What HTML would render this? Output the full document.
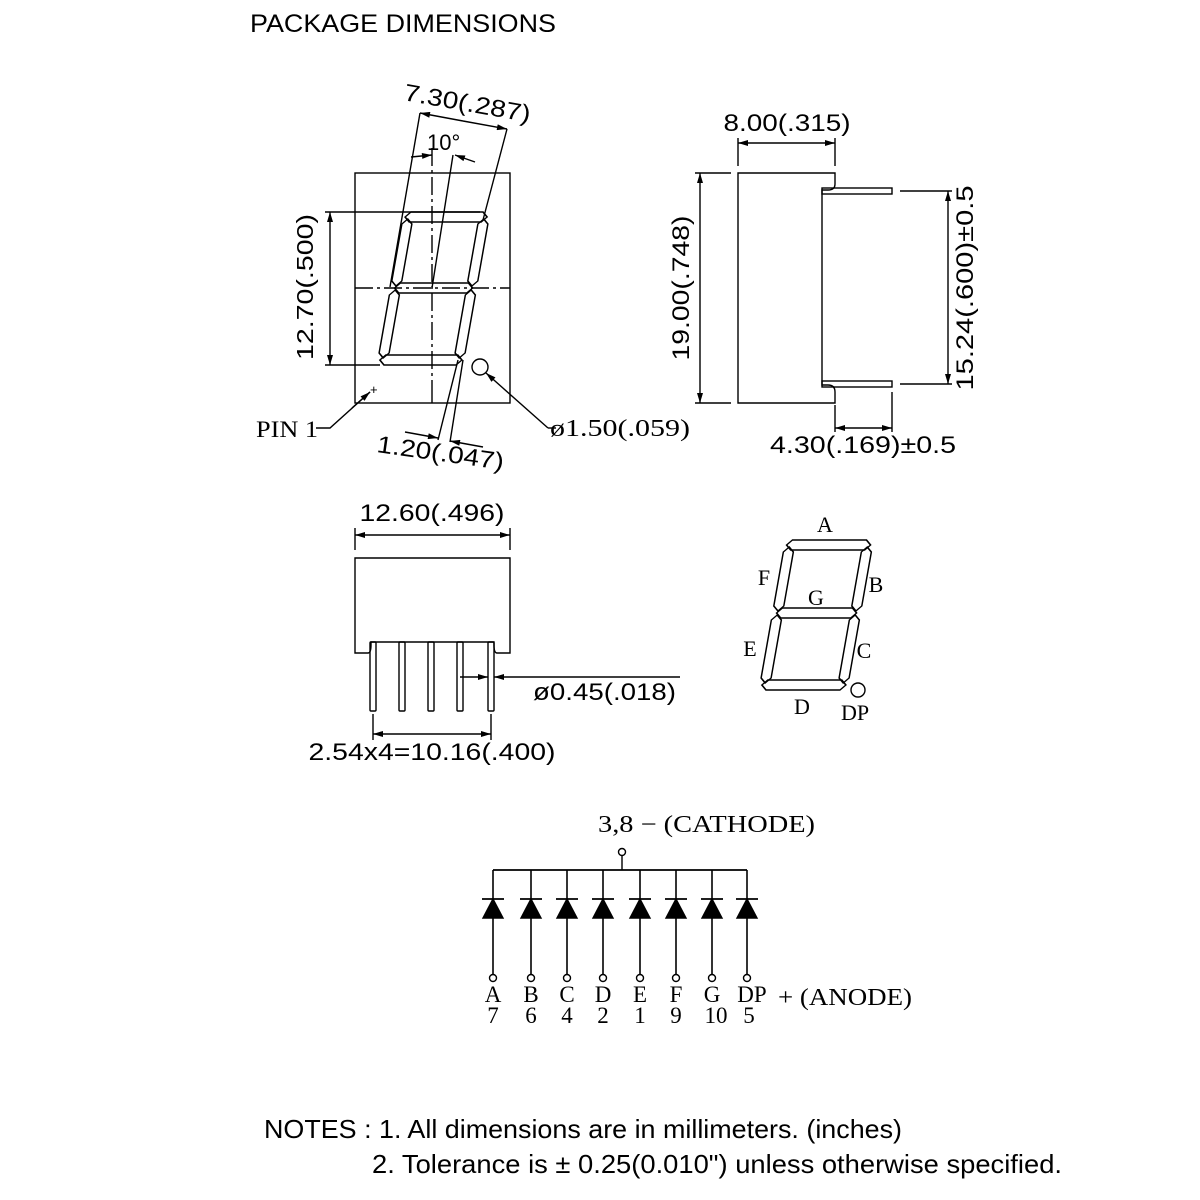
<!DOCTYPE html>
<html><head><meta charset="utf-8"><style>
html,body{margin:0;padding:0;background:#fff;}
svg{display:block;}
.s{font-family:"Liberation Sans",sans-serif;fill:#000;}
.r{font-family:"Liberation Serif",serif;fill:#000;}
</style></head><body>
<svg width="1200" height="1200" viewBox="0 0 1200 1200" xmlns="http://www.w3.org/2000/svg">
<defs>
<marker id="a" viewBox="0 0 10 6" refX="10" refY="3" markerWidth="14" markerHeight="6" markerUnits="userSpaceOnUse" orient="auto-start-reverse"><path d="M0,0L10,3L0,6z" fill="#000"/></marker>
</defs>
<g stroke="#000" fill="none" stroke-width="1.4">
<text class="s" x="250" y="32" font-size="25" textLength="306" lengthAdjust="spacingAndGlyphs" stroke="none">PACKAGE DIMENSIONS</text>

<!-- front view -->
<rect x="355" y="173" width="155" height="230"/>
<line x1="355" y1="288" x2="510" y2="288" stroke-dasharray="18,4,3,4"/>
<line x1="432" y1="148" x2="432" y2="380" stroke-dasharray="18,4,3,4"/>
<line x1="432" y1="380" x2="432" y2="403"/>
<g transform="translate(0,365) skewX(-10) translate(0,-365)" stroke-width="1.5">
<polygon points="379,217 384,212 456,212 461,217 456,222 384,222"/>
<polygon points="381,288 386,283 454,283 459,288 454,293 386,293"/>
<polygon points="379,360 384,355 456,355 461,360 456,365 384,365"/>
<polygon points="382,219 387,224 387,281 382,286 377,281 377,224"/>
<polygon points="458,219 463,224 463,281 458,286 453,281 453,224"/>
<polygon points="382,290 387,295 387,353 382,358 377,353 377,295"/>
<polygon points="458,290 463,295 463,353 458,358 453,353 453,295"/>
</g>
<circle cx="480" cy="367" r="8"/>
<line x1="548" y1="428" x2="486" y2="373" marker-end="url(#a)"/>
<line x1="548" y1="428" x2="556" y2="428"/>
<text class="r" x="550" y="436" font-size="24" textLength="140" lengthAdjust="spacingAndGlyphs" stroke="none">ø1.50(.059)</text>
<!-- 7.30 -->
<line x1="420" y1="113" x2="390" y2="287"/>
<line x1="507" y1="129" x2="483" y2="220"/>
<line x1="463" y1="121" x2="420" y2="113" marker-end="url(#a)"/>
<line x1="463" y1="121" x2="507" y2="129" marker-end="url(#a)"/>
<text class="s" transform="translate(403,100) rotate(10)" font-size="24" textLength="128" lengthAdjust="spacingAndGlyphs" stroke="none">7.30(.287)</text>
<!-- 10 deg -->
<line x1="453" y1="155" x2="432" y2="288"/>
<line x1="411" y1="157" x2="432" y2="155" marker-end="url(#a)"/>
<line x1="475" y1="162" x2="455" y2="155" marker-end="url(#a)"/>
<text class="s" x="427" y="150" font-size="22" stroke="none">10°</text>
<!-- 12.70 -->
<line x1="325" y1="212" x2="480" y2="212"/>
<line x1="325" y1="365" x2="380" y2="365"/>
<line x1="330" y1="288" x2="330" y2="212" marker-end="url(#a)"/>
<line x1="330" y1="288" x2="330" y2="365" marker-end="url(#a)"/>
<text class="s" transform="translate(313,287) rotate(-90)" font-size="23" text-anchor="middle" textLength="146" lengthAdjust="spacingAndGlyphs" stroke="none">12.70(.500)</text>
<!-- 1.20 -->
<line x1="458" y1="360" x2="438" y2="440"/>
<line x1="463" y1="360" x2="450" y2="442"/>
<line x1="405" y1="432" x2="438" y2="438" marker-end="url(#a)"/>
<line x1="483" y1="447" x2="450" y2="441" marker-end="url(#a)"/>
<text class="s" transform="translate(376,452) rotate(8)" font-size="24" textLength="128" lengthAdjust="spacingAndGlyphs" stroke="none">1.20(.047)</text>
<!-- pin1 -->
<text class="r" x="256" y="437" font-size="23" textLength="62" lengthAdjust="spacingAndGlyphs" stroke="none">PIN 1</text>
<polyline points="316,428 330,428 370,392"/>
<line x1="352" y1="408" x2="370" y2="392" marker-end="url(#a)"/>
<text class="s" x="370" y="394" font-size="13" stroke="none">+</text>

<!-- side view -->
<path d="M738,173 H835 V184 Q835,190 828,190 H822 V385 H828 Q835,385 835,392 V403 H738 Z"/>
<rect x="822" y="188" width="70" height="6"/>
<rect x="822" y="381" width="70" height="6"/>
<line x1="738" y1="138" x2="738" y2="166"/>
<line x1="835" y1="138" x2="835" y2="166"/>
<line x1="787" y1="143" x2="738" y2="143" marker-end="url(#a)"/>
<line x1="787" y1="143" x2="835" y2="143" marker-end="url(#a)"/>
<text class="s" x="787" y="131" font-size="24" text-anchor="middle" textLength="127" lengthAdjust="spacingAndGlyphs" stroke="none">8.00(.315)</text>
<line x1="695" y1="173" x2="731" y2="173"/>
<line x1="695" y1="403" x2="731" y2="403"/>
<line x1="700" y1="288" x2="700" y2="173" marker-end="url(#a)"/>
<line x1="700" y1="288" x2="700" y2="403" marker-end="url(#a)"/>
<text class="s" transform="translate(689,288) rotate(-90)" font-size="24" text-anchor="middle" textLength="145" lengthAdjust="spacingAndGlyphs" stroke="none">19.00(.748)</text>
<line x1="900" y1="191" x2="952" y2="191"/>
<line x1="900" y1="384" x2="952" y2="384"/>
<line x1="948" y1="288" x2="948" y2="191" marker-end="url(#a)"/>
<line x1="948" y1="288" x2="948" y2="384" marker-end="url(#a)"/>
<text class="s" transform="translate(973,288) rotate(-90)" font-size="24" text-anchor="middle" textLength="205" lengthAdjust="spacingAndGlyphs" stroke="none">15.24(.600)±0.5</text>
<line x1="835" y1="405" x2="835" y2="432"/>
<line x1="892" y1="392" x2="892" y2="432"/>
<line x1="863" y1="428" x2="835" y2="428" marker-end="url(#a)"/>
<line x1="863" y1="428" x2="892" y2="428" marker-end="url(#a)"/>
<text class="s" x="863" y="453" font-size="24" text-anchor="middle" textLength="186" lengthAdjust="spacingAndGlyphs" stroke="none">4.30(.169)±0.5</text>

<!-- bottom view -->
<path d="M355,558 H510 V653 H497 Q494,653 494,645 V642 H371 V645 Q371,653 368,653 H355 Z"/>
<rect x="370" y="642" width="6" height="69" rx="1"/>
<rect x="399" y="642" width="6" height="69" rx="1"/>
<rect x="428" y="642" width="6" height="69" rx="1"/>
<rect x="457" y="642" width="6" height="69" rx="1"/>
<rect x="488" y="642" width="6" height="69" rx="1"/>
<line x1="355" y1="528" x2="355" y2="550"/>
<line x1="510" y1="528" x2="510" y2="550"/>
<line x1="432" y1="535" x2="355" y2="535" marker-end="url(#a)"/>
<line x1="432" y1="535" x2="510" y2="535" marker-end="url(#a)"/>
<text class="s" x="432" y="521" font-size="24" text-anchor="middle" textLength="145" lengthAdjust="spacingAndGlyphs" stroke="none">12.60(.496)</text>
<line x1="460" y1="677" x2="488" y2="677" marker-end="url(#a)"/>
<line x1="680" y1="677" x2="494" y2="677" marker-end="url(#a)"/>
<text class="s" x="533" y="700" font-size="24" textLength="143" lengthAdjust="spacingAndGlyphs" stroke="none">ø0.45(.018)</text>
<line x1="373" y1="714" x2="373" y2="740"/>
<line x1="491" y1="714" x2="491" y2="740"/>
<line x1="432" y1="734" x2="373" y2="734" marker-end="url(#a)"/>
<line x1="432" y1="734" x2="491" y2="734" marker-end="url(#a)"/>
<text class="s" x="432" y="760" font-size="24" text-anchor="middle" textLength="247" lengthAdjust="spacingAndGlyphs" stroke="none">2.54x4=10.16(.400)</text>

<!-- segment diagram -->
<g transform="translate(0,690) skewX(-10) translate(0,-690)" stroke-width="1.5">
<polygon points="761,545 766,540 840,540 845,545 840,550 766,550"/>
<polygon points="763,613 768,608 838,608 843,613 838,618 768,618"/>
<polygon points="761,685 766,680 840,680 845,685 840,690 766,690"/>
<polygon points="764,547 769,552 769,606 764,611 759,606 759,552"/>
<polygon points="842,547 847,552 847,606 842,611 837,606 837,552"/>
<polygon points="764,615 769,620 769,678 764,683 759,678 759,620"/>
<polygon points="842,615 847,620 847,678 842,683 837,678 837,620"/>
</g>
<circle cx="858" cy="690" r="7"/>
<g class="r" font-size="22" stroke="none">
<text x="825" y="532" text-anchor="middle">A</text>
<text x="764" y="585" text-anchor="middle">F</text>
<text x="876" y="592" text-anchor="middle">B</text>
<text x="816" y="605" text-anchor="middle">G</text>
<text x="750" y="656" text-anchor="middle">E</text>
<text x="864" y="658" text-anchor="middle">C</text>
<text x="802" y="714" text-anchor="middle">D</text>
<text x="855" y="720" text-anchor="middle">DP</text>
</g>

<!-- circuit -->
<text class="r" x="598" y="832" font-size="24" textLength="217" lengthAdjust="spacingAndGlyphs" stroke="none">3,8 − (CATHODE)</text>
<circle cx="622" cy="852" r="3.5"/>
<line x1="622" y1="856" x2="622" y2="870"/>
<line x1="493" y1="870" x2="747" y2="870" stroke-width="1.8"/>
<g id="d">
<line x1="493" y1="870" x2="493" y2="974" stroke-width="1.6"/>
<line x1="482" y1="899" x2="504" y2="899" stroke-width="1.8"/>
<polygon points="493,899 483,918 503,918" fill="#000"/>
<circle cx="493" cy="978" r="3.5"/>
</g>
<use href="#d" x="38"/><use href="#d" x="74"/><use href="#d" x="110"/><use href="#d" x="147"/><use href="#d" x="183"/><use href="#d" x="219"/><use href="#d" x="254"/>
<g class="r" font-size="23" stroke="none" text-anchor="middle">
<text x="493" y="1002">A</text><text x="531" y="1002">B</text><text x="567" y="1002">C</text><text x="603" y="1002">D</text><text x="640" y="1002">E</text><text x="676" y="1002">F</text><text x="712" y="1002">G</text><text x="752" y="1002">DP</text>
<text x="493" y="1023">7</text><text x="531" y="1023">6</text><text x="567" y="1023">4</text><text x="603" y="1023">2</text><text x="640" y="1023">1</text><text x="676" y="1023">9</text><text x="716" y="1023">10</text><text x="749" y="1023">5</text>
</g>
<text class="r" x="778" y="1005" font-size="24" textLength="134" lengthAdjust="spacingAndGlyphs" stroke="none">+ (ANODE)</text>

<text class="s" x="264" y="1138" font-size="26" textLength="638" lengthAdjust="spacingAndGlyphs" stroke="none">NOTES : 1. All dimensions are in millimeters. (inches)</text>
<text class="s" x="372" y="1173" font-size="26" textLength="690" lengthAdjust="spacingAndGlyphs" stroke="none">2. Tolerance is ± 0.25(0.010") unless otherwise specified.</text>
</g>
</svg>
</body></html>
